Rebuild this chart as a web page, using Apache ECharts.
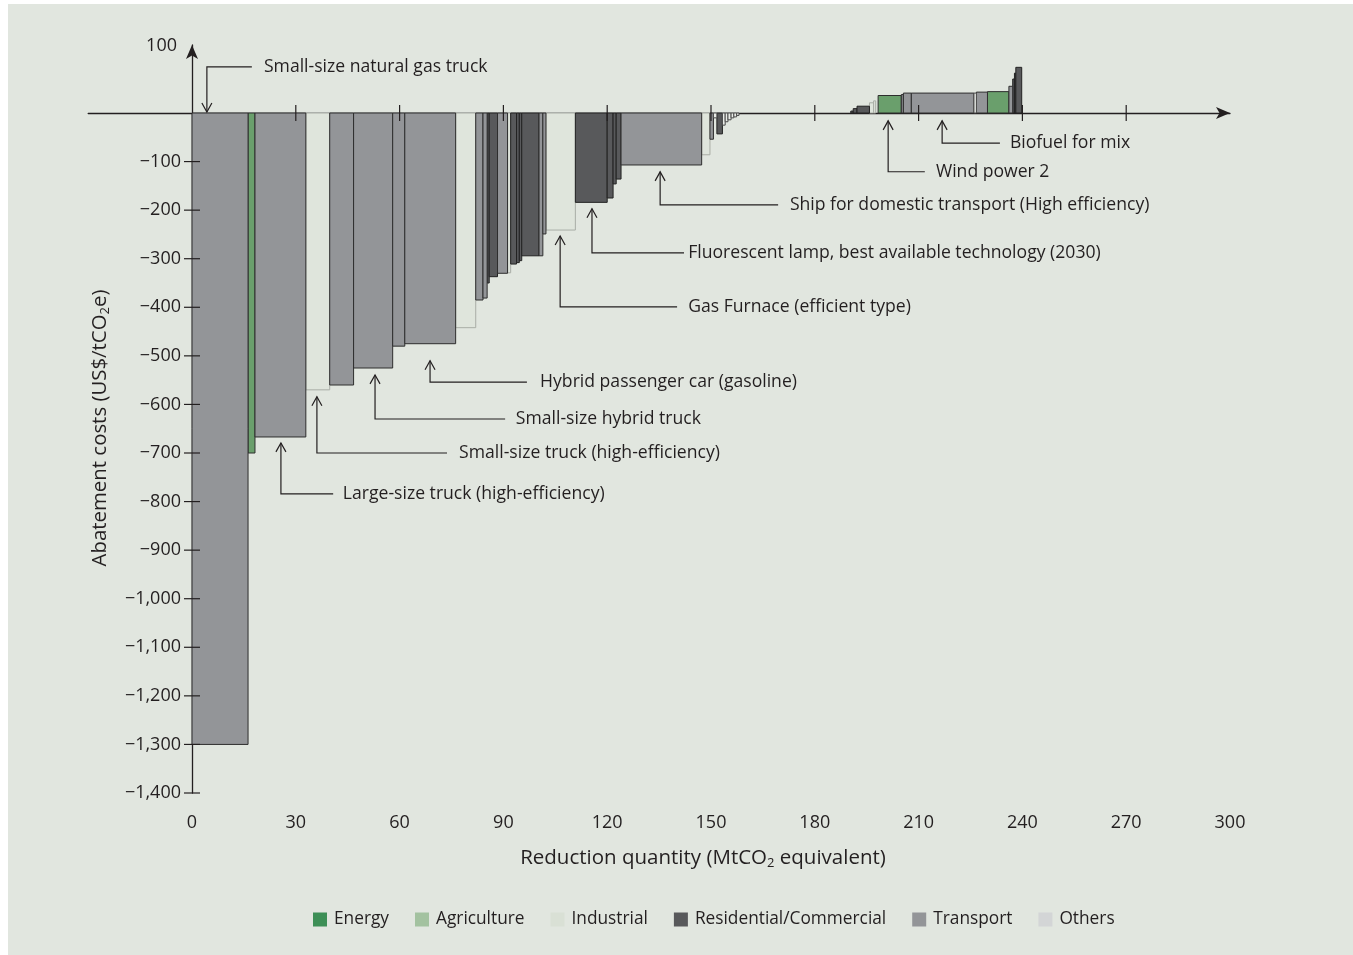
<!DOCTYPE html>
<html><head><meta charset="utf-8">
<script src="https://cdn.jsdelivr.net/npm/echarts@6/dist/echarts.min.js"></script>
<style>html,body{margin:0;padding:0;background:#fff}#c{width:1353px;height:955px}</style>
</head><body><div id="c"></div>
<script>
const categories = ['Energy','Agriculture','Industrial','Residential/Commercial','Transport','Others'];
// measures in merit order: reduction quantity (MtCO2e), abatement cost (US$/tCO2e), sector
const widths = [16.2, 2.0, 14.7, 6.9, 6.9, 11.3, 3.5, 14.7, 5.8, 2.1,
  1.2, 0.6, 2.4, 2.9, 0.9, 1.7, 0.8, 0.7, 5.0, 1.1,
  0.9, 8.5, 9.2, 1.7, 0.9, 1.4, 23.3, 2.4, 1.0, 1.0,
  1.6, 0.8, 0.8, 0.9, 0.8, 0.8, 0.7, 32.3, 0.7, 1.1,
  3.6, 1.2, 0.6, 0.7, 6.7, 0.6, 2.3, 18.1, 0.7, 3.2,
  6.2, 1.1, 0.5, 0.4, 1.7];
const costs = [-1300, -700, -667, -570, -560, -525, -480, -475, -442, -385,
  -381, -350, -337, -330, -329, -311, -308, -304, -294, -294,
  -249, -241, -184, -175, -146, -136, -107, -86, -54, -10,
  -43, -25, -18, -14, -10, -8, -5, 0, 4, 9,
  14, 21, 25, 0, 36, 38, 41, 41, 41, 43,
  44, 55, 70, 82, 94];
const sectors = ['Transport','Energy','Transport','Industrial','Transport','Transport','Transport','Transport','Industrial','Transport',
  'Transport','Residential/Commercial','Residential/Commercial','Transport','Industrial','Residential/Commercial','Residential/Commercial','Residential/Commercial','Residential/Commercial','Transport',
  'Transport','Industrial','Residential/Commercial','Residential/Commercial','Residential/Commercial','Residential/Commercial','Transport','Industrial','Transport','Others',
  'Residential/Commercial','Others','Others','Others','Others','Others','Others',null,'Residential/Commercial','Residential/Commercial',
  'Residential/Commercial','Industrial','Industrial',null,'Energy','Transport','Transport','Transport','Others','Transport',
  'Energy','Transport','Residential/Commercial','Residential/Commercial','Residential/Commercial'];
const xTickValues = [30, 60, 90, 120, 150, 180, 210, 240, 270];
const yTickValues = [-1400,-1300,-1200,-1100,-1000,-900,-800,-700,-600,-500,-400,-300,-200,-100];
const annotationNames = ['Small-size natural gas truck','Large-size truck (high-efficiency)','Small-size truck (high-efficiency)',
  'Small-size hybrid truck','Hybrid passenger car (gasoline)','Gas Furnace (efficient type)',
  'Fluorescent lamp, best available technology (2030)','Ship for domestic transport (High efficiency)','Wind power 2','Biofuel for mix'];

// ---- layout (leader lines, in data coordinates) ----
const annotationLayout = [
  {x:4.3,  tip:0,    elbow:95,   end:17.3,  text:20.8,  down:true},
  {x:25.7, tip:-673, elbow:-784, end:40.8,  text:43.6},
  {x:36.1, tip:-578, elbow:-700, end:73.7,  text:77.2},
  {x:52.9, tip:-533, elbow:-630, end:90.5,  text:93.6},
  {x:68.8, tip:-504, elbow:-554, end:96.8,  text:100.6},
  {x:106.4,tip:-247, elbow:-399, end:140.2, text:143.4},
  {x:115.6,tip:-191, elbow:-288, end:142.2, text:143.4},
  {x:135.3,tip:-115, elbow:-189, end:169.4, text:172.8},
  {x:201.2,tip:-10,  elbow:-121, end:211.8, text:215.0},
  {x:216.8,tip:-10,  elbow:-62,  end:233.5, text:236.4}
];
const legendColors = {'Energy':'#3d8f56','Agriculture':'#a3c2a0','Industrial':'#d9e0d5','Residential/Commercial':'#58595b','Transport':'#939598','Others':'#d3d5d6'};
const barStyle = {
  'Energy':{fill:'#6a9f6c', stroke:'#2e2e2e'},
  'Agriculture':{fill:'#a3c2a0', stroke:'#555555'},
  'Industrial':{fill:'#dfe5dc', stroke:'#a9ada6'},
  'Residential/Commercial':{fill:'#58595b', stroke:'#222222'},
  'Transport':{fill:'#939598', stroke:'#2e2e2e'},
  'Others':{fill:'#e9ece7', stroke:'#4a4a4a'}
};
const FONT = '"Open Sans", "Noto Sans", sans-serif';
const INK = '#231f20';

// cumulative starts
const starts = []; let acc = 0;
for (let i = 0; i < widths.length; i++) { starts.push(acc); acc += widths[i]; }

function barRender(params, api) {
  const x0 = api.value(0), w = api.value(1), c = api.value(2);
  const p0 = api.coord([x0, 0]), p1 = api.coord([x0 + w, c]);
  const st = barStyle[params.seriesName];
  return {type:'rect', shape:{x:p0[0], y:Math.min(p0[1], p1[1]), width:p1[0]-p0[0], height:Math.abs(p1[1]-p0[1])},
    style:{fill:st.fill, stroke:st.stroke, lineWidth:1}};
}

const series = categories.map(cat => {
  const data = [];
  for (let i = 0; i < widths.length; i++) if (sectors[i] === cat) data.push([starts[i], widths[i], costs[i]]);
  return {name:cat, type:'custom', renderItem:barRender, data:data, xAxisIndex:0, yAxisIndex:0,
    itemStyle:{color:legendColors[cat]}, encode:{x:[0], y:[2]}, silent:true, z:2};
});

series.push({name:'xticks', type:'custom', xAxisIndex:0, yAxisIndex:0, silent:true, z:5,
  data:xTickValues.map(v=>[v,0]),
  renderItem:(p, api) => { const c = api.coord([api.value(0), 0]);
    return {type:'line', shape:{x1:c[0], y1:c[1]-8, x2:c[0], y2:c[1]+8}, style:{stroke:INK, lineWidth:1.2}}; }});
series.push({name:'yticks', type:'custom', xAxisIndex:0, yAxisIndex:0, silent:true, z:5,
  data:yTickValues.map(v=>[0,v]),
  renderItem:(p, api) => { const c = api.coord([0, api.value(1)]);
    return {type:'line', shape:{x1:c[0]-8, y1:c[1], x2:c[0]+8, y2:c[1]}, style:{stroke:INK, lineWidth:1.2}}; }});
series.push({name:'annotations', type:'custom', xAxisIndex:0, yAxisIndex:0, silent:true, z:6,
  data:annotationLayout.map((a,i)=>[a.x, a.tip, i]),
  renderItem:(p, api) => {
    const i = api.value(2); const a = annotationLayout[i];
    const t = api.coord([a.x, a.tip]);
    if (a.down) t[1] -= 1; else t[1] += 3;
    const e = api.coord([a.x, a.elbow]);
    const le = api.coord([a.end, a.elbow]);
    const tx = api.coord([a.text, a.elbow]);
    const d = a.down ? -1 : 1;
    return {type:'group', children:[
      {type:'polyline', shape:{points:[[t[0],t[1]],[t[0],e[1]],[le[0],e[1]]]}, style:{stroke:INK, lineWidth:1.2, fill:null}},
      {type:'polyline', shape:{points:[[t[0]-5,t[1]+9*d],[t[0],t[1]],[t[0]+5,t[1]+9*d]]}, style:{stroke:INK, lineWidth:1.2, fill:null}},
      {type:'text', x:tx[0], y:e[1], style:{text:annotationNames[i], fill:INK, fontSize:17.6, fontFamily:FONT, align:'left', verticalAlign:'middle'}}
    ]};
  }});

const GRID_LEFT = 88.2;
const chart = echarts.init(document.getElementById('c'), null, {renderer:'canvas'});
chart.setOption({
  backgroundColor:'#ffffff',
  animation:false,
  grid:{left:GRID_LEFT, top:45, width:1141.8, height:748, containLabel:false},
  xAxis:[
    {type:'value', min:-30, max:300, interval:30, position:'bottom',
      axisLine:{onZero:true, lineStyle:{color:INK, width:1.3}, symbol:['none','arrow'], symbolSize:[9,14]},
      axisTick:{show:false}, axisLabel:{show:false}, splitLine:{show:false}},
    {type:'value', min:-30, max:300, interval:30, position:'bottom',
      axisLine:{show:false, onZero:false}, axisTick:{show:false}, splitLine:{show:false},
      axisLabel:{margin:21, fontSize:18, fontFamily:FONT, color:INK, formatter:v => v < 0 ? '' : String(v)}}
  ],
  yAxis:{type:'value', min:-1400, max:140, interval:100,
    axisLine:{onZero:true, lineStyle:{color:INK, width:1.3}, symbol:['none','arrow'], symbolSize:[9,14]},
    axisTick:{show:false}, splitLine:{show:false},
    axisLabel:{margin:11 - (192 - GRID_LEFT), fontSize:18, fontFamily:FONT, color:INK,
      formatter:v => v >= 0 ? '' : '\u2212' + Math.abs(v).toLocaleString('en-US')}},
  legend:{data:categories, left:308, top:906, icon:'rect', itemWidth:14, itemHeight:14, itemGap:26, selectedMode:false,
    textStyle:{fontSize:17.3, fontFamily:FONT, color:INK, padding:[0,0,0,2]}},
  graphic:[
    {type:'rect', z:-100, silent:true, shape:{x:8, y:4, width:1345, height:951}, style:{fill:'#e1e6df'}},
    {type:'text', x:177, y:46, silent:true, style:{text:'100', fill:INK, fontSize:18, fontFamily:FONT, align:'right', verticalAlign:'middle'}},
    {type:'text', x:703, y:858, silent:true, style:{text:'{a|Reduction quantity (MtCO}{s|2}{a| equivalent)}', fill:INK, align:'center', verticalAlign:'middle',
      rich:{a:{fontSize:20.5, fontFamily:FONT, fill:INK}, s:{fontSize:13, fontFamily:FONT, padding:[11,0,0,0], fill:INK}}}},
    {type:'text', x:100, y:428, rotation:Math.PI/2, silent:true, style:{text:'{a|Abatement costs (US$/tCO}{s|2}{a|e)}', fill:INK, align:'center', verticalAlign:'middle',
      rich:{a:{fontSize:20.4, fontFamily:FONT, fill:INK}, s:{fontSize:13, fontFamily:FONT, padding:[11,0,0,0], fill:INK}}}}
  ],
  series:series
});
</script></body></html>
